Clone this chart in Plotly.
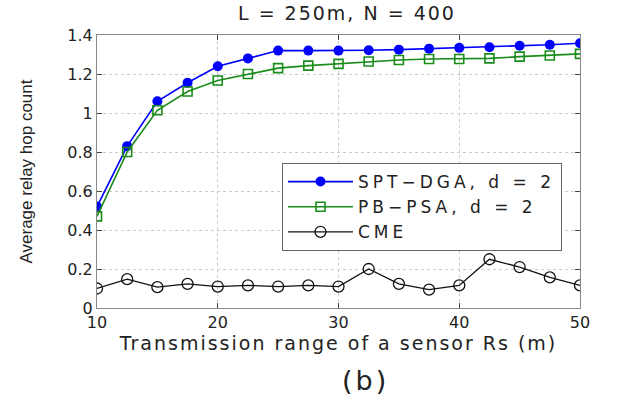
import plotly.graph_objects as go

rs = [10, 12.5, 15, 17.5, 20, 22.5, 25, 27.5, 30, 32.5, 35, 37.5, 40, 42.5, 45, 47.5, 50]
spt_dga = [0.52, 0.83, 1.06, 1.155, 1.24, 1.28, 1.32, 1.32, 1.32, 1.322, 1.325, 1.33, 1.334, 1.337, 1.345, 1.35, 1.358]
pb_psa = [0.47, 0.80, 1.014, 1.11, 1.167, 1.20, 1.23, 1.243, 1.252, 1.264, 1.272, 1.277, 1.277, 1.28, 1.289, 1.295, 1.303]
cme = [0.10, 0.148, 0.107, 0.124, 0.11, 0.116, 0.11, 0.116, 0.11, 0.20, 0.124, 0.094, 0.116, 0.25, 0.21, 0.157, 0.116]

y_ticks = [0, 0.2, 0.4, 0.6, 0.8, 1, 1.2, 1.4]
y_labels = ["0", "0.2", "0.4", "0.6", "0.8", "1", "1.2", "1.4"]
x_ticks = [10, 20, 30, 40, 50]

font = "DejaVu Sans, Liberation Sans, Arial, sans-serif"
font2 = "Liberation Sans, Arial, sans-serif"


def wide(s, sp):
    return '<span style="letter-spacing:%spx">%s</span>' % (sp, s)


fig = go.Figure()
fig.add_trace(go.Scatter(x=rs, y=spt_dga, mode="lines+markers", name=wide("SPT\u2212DGA, d = 2", 4),
                         line=dict(color="#0000ff", width=1.6),
                         marker=dict(symbol="circle", size=10, color="#0000ff")))
fig.add_trace(go.Scatter(x=rs, y=pb_psa, mode="lines+markers", name=wide("PB\u2212PSA, d = 2", 4),
                         line=dict(color="#1a8c1a", width=1.6),
                         marker=dict(symbol="square-open", size=9, color="#1a8c1a", line=dict(width=1.6))))
fig.add_trace(go.Scatter(x=rs, y=cme, mode="lines+markers", name=wide("CME", 4),
                         line=dict(color="#111111", width=1.3),
                         marker=dict(symbol="circle-open", size=11, color="#111111", line=dict(width=1.3))))

fig.update_layout(
    width=618, height=400,
    margin=dict(l=97, r=38, t=35, b=92),
    paper_bgcolor="white", plot_bgcolor="white",
    font=dict(family=font, size=16, color="#222"),
    showlegend=True,
    legend=dict(x=0.383, y=0.531, xanchor="left", yanchor="top",
                bgcolor="white", bordercolor="#666", borderwidth=1,
                font=dict(size=17, family=font), tracegroupgap=0,
                itemwidth=65),
    annotations=[
        dict(text=wide("L = 250m, N = 400", 2), x=0.5, y=1, xref="paper", yref="paper",
             xanchor="center", yanchor="middle", yshift=22, xshift=8, showarrow=False,
             font=dict(size=19, family=font)),
        dict(text=wide("(b)", 3), x=0.5, y=0, xref="paper", yref="paper",
             xanchor="center", yanchor="middle", yshift=-72, xshift=27, showarrow=False,
             font=dict(size=27, family=font)),
    ],
)
fig.update_xaxes(range=[10, 50], tickvals=x_ticks, ticks="inside", ticklen=5,
                 showline=True, mirror="ticks", linecolor="#888", linewidth=1,
                 showgrid=True, gridcolor="#cccccc", griddash="dot", zeroline=False,
                 tickfont=dict(size=16, family=font),
                 title=dict(text=wide("Transmission range of a sensor Rs (m)", 2), standoff=0,
                            font=dict(size=19, family=font)))
fig.update_yaxes(range=[0, 1.4], tickvals=y_ticks, ticktext=y_labels, ticks="inside", ticklen=5,
                 showline=True, mirror="ticks", linecolor="#888", linewidth=1,
                 showgrid=True, gridcolor="#cccccc", griddash="dot", zeroline=False,
                 tickfont=dict(size=16, family=font),
                 title=dict(text="Average relay hop count", standoff=30,
                            font=dict(size=17, family=font2)))

fig.write_html("out.html", config={"displayModeBar": False},
               post_script="document.body.style.margin='0';")
